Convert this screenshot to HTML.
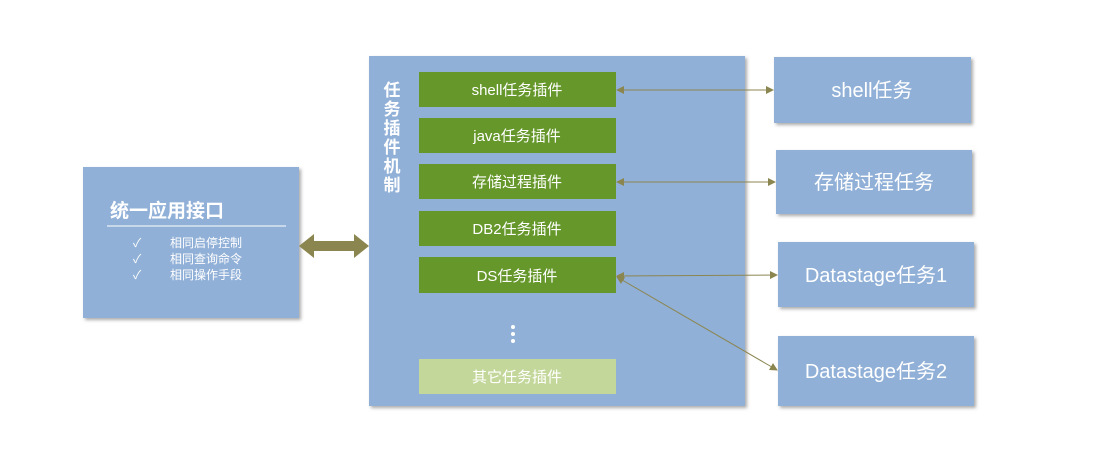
<!DOCTYPE html>
<html><head><meta charset="utf-8"><style>
html,body{margin:0;padding:0;background:#fff;width:1120px;height:470px;overflow:hidden}
text{font-family:"Liberation Sans","Noto Sans CJK SC","WenQuanYi Zen Hei",sans-serif}
</style></head><body>
<svg width="1120" height="470" xmlns="http://www.w3.org/2000/svg">
<defs>
<filter id="sh" x="-10%" y="-10%" width="130%" height="130%"><feDropShadow dx="2" dy="2" stdDeviation="1.5" flood-color="#555" flood-opacity="0.5"/></filter>
<marker id="ah" markerWidth="8" markerHeight="8" refX="7" refY="4" orient="auto-start-reverse" markerUnits="userSpaceOnUse"><path d="M0,0 L8,4 L0,8 z" fill="#8b8650"/></marker>
</defs>
<g filter="url(#sh)">
<rect x="83" y="167" width="216" height="151" fill="#91b0d7"/>
<rect x="369" y="56" width="376" height="350" fill="#91b0d7"/>
<rect x="774" y="57" width="197" height="66" fill="#91b0d7"/>
<rect x="776" y="150" width="196" height="64" fill="#91b0d7"/>
<rect x="778" y="242" width="196" height="65" fill="#91b0d7"/>
<rect x="778" y="336" width="196" height="70" fill="#91b0d7"/>
<rect x="419" y="72" width="197" height="35" fill="#65972b"/>
<rect x="419" y="118" width="197" height="35" fill="#65972b"/>
<rect x="419" y="164" width="197" height="35" fill="#65972b"/>
<rect x="419" y="211" width="197" height="35" fill="#65972b"/>
<rect x="419" y="257" width="197" height="36" fill="#65972b"/>
<rect x="419" y="359" width="197" height="35" fill="#c4d79a"/>
</g>
<text x="110" y="217" font-size="19" font-weight="bold" fill="#fff">统一应用接口</text>
<line x1="107" y1="226" x2="286" y2="226" stroke="#fff" stroke-width="1"/>
<g font-size="12" fill="#fff">
<text x="133" y="247">✓</text><text x="170" y="247">相同启停控制</text>
<text x="133" y="263">✓</text><text x="170" y="263">相同查询命令</text>
<text x="133" y="279">✓</text><text x="170" y="279">相同操作手段</text>
</g>
<path d="M299,246 L314,234 L314,241 L354,241 L354,234 L369,246 L354,258 L354,251 L314,251 L314,258 z" fill="#8b8650"/>
<g font-size="17" font-weight="bold" fill="#fff" text-anchor="middle">
<text x="392" y="96">任</text><text x="392" y="115">务</text><text x="392" y="134">插</text>
<text x="392" y="153">件</text><text x="392" y="172">机</text><text x="392" y="191">制</text>
</g>
<g font-size="15" fill="#fff" text-anchor="middle">
<text x="517" y="95">shell任务插件</text>
<text x="517" y="141">java任务插件</text>
<text x="517" y="187">存储过程插件</text>
<text x="517" y="234">DB2任务插件</text>
<text x="517" y="281">DS任务插件</text>
<text x="517" y="382">其它任务插件</text>
</g>
<circle cx="513" cy="327" r="2" fill="#fff"/><circle cx="513" cy="334" r="2" fill="#fff"/><circle cx="513" cy="341" r="2" fill="#fff"/>
<g stroke="#8b8650" stroke-width="1" marker-start="url(#ah)" marker-end="url(#ah)">
<line x1="617" y1="90" x2="773" y2="90"/>
<line x1="617" y1="182" x2="775" y2="182"/>
<line x1="617" y1="276" x2="777" y2="275"/>
<line x1="617" y1="277" x2="777" y2="370"/>
</g>
<g font-size="20" fill="#fff" text-anchor="middle">
<text x="872" y="97">shell任务</text>
<text x="874" y="189">存储过程任务</text>
<text x="876" y="282">Datastage任务1</text>
<text x="876" y="378">Datastage任务2</text>
</g>
</svg>
</body></html>
